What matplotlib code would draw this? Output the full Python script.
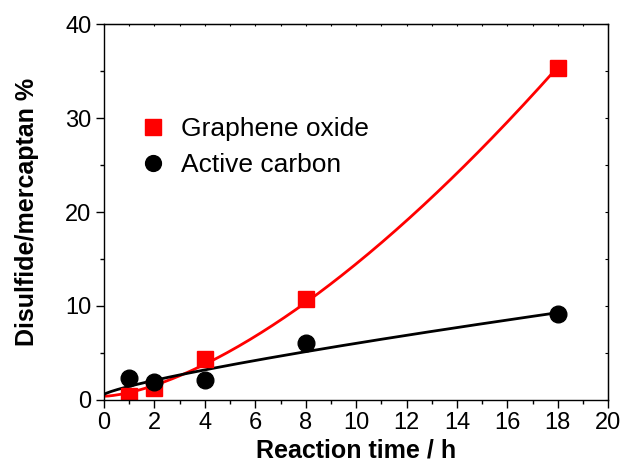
import matplotlib
matplotlib.use("Agg")
import matplotlib.pyplot as plt
import numpy as np
from matplotlib.ticker import MultipleLocator

plt.rcParams["font.family"] = ["Liberation Sans", "DejaVu Sans"]

# reaction time (h) and disulfide/mercaptan ratio (%)
time_h = [1, 2, 4, 8, 18]
graphene_oxide = [0.4, 1.3, 4.4, 10.7, 35.3]
active_carbon = [2.3, 1.9, 2.1, 6.0, 9.1]
# values of the trend lines at t = 0
go_start = 0.2
ac_start = 0.3


def fit_power(x, y, p):
    # least squares fit of y = c + a * x**p
    x = np.asarray(x, float)
    A = np.column_stack([np.ones_like(x), x ** p])
    coef, *_ = np.linalg.lstsq(A, np.asarray(y, float), rcond=None)
    return coef


fig = plt.figure(figsize=(6.27, 4.66), dpi=100)
ax = fig.add_axes([0.166, 0.142, 0.804, 0.806])

t_fit = np.linspace(0, 18, 200)
go_c = fit_power([0] + time_h, [go_start] + graphene_oxide, 1.55)
ac_c = fit_power([0] + time_h, [ac_start] + active_carbon, 0.8)
ax.plot(t_fit, go_c[0] + go_c[1] * t_fit ** 1.55, color="red", lw=2)
ax.plot(t_fit, ac_c[0] + ac_c[1] * t_fit ** 0.8, color="black", lw=2)

ax.plot(time_h, graphene_oxide, "s", color="red", ms=11.5, label="Graphene oxide")
ax.plot(time_h, active_carbon, "o", color="black", ms=12, label="Active carbon")

ax.set_xlim(0, 20)
ax.set_ylim(0, 40)
ax.xaxis.set_major_locator(MultipleLocator(2))
ax.xaxis.set_minor_locator(MultipleLocator(1))
ax.yaxis.set_major_locator(MultipleLocator(10))
ax.yaxis.set_minor_locator(MultipleLocator(5))
ax.tick_params(which="both", direction="out", labelsize=17, width=1, pad=3)
ax.tick_params(which="major", length=6)
ax.tick_params(which="minor", length=3)
for s in ax.spines.values():
    s.set_linewidth(1)

# tiny mirrored ticks on the top and right frame
secx = ax.secondary_xaxis("top")
secx.xaxis.set_major_locator(MultipleLocator(1))
secx.tick_params(direction="in", length=1.5, labeltop=False)
secy = ax.secondary_yaxis("right")
secy.yaxis.set_major_locator(MultipleLocator(5))
secy.tick_params(direction="in", length=2, labelright=False)

ax.set_xlabel("Reaction time / h", fontsize=18, fontweight="bold", labelpad=3)
ax.set_ylabel("Disulfide/mercaptan %", fontsize=18, fontweight="bold", labelpad=19)

ax.legend(loc="upper left", bbox_to_anchor=(0.023, 0.78), frameon=False,
          fontsize=19, handletextpad=0.06, labelspacing=0.45, borderaxespad=0,
          markerscale=0.95)

fig.savefig("out.png", dpi=100)
